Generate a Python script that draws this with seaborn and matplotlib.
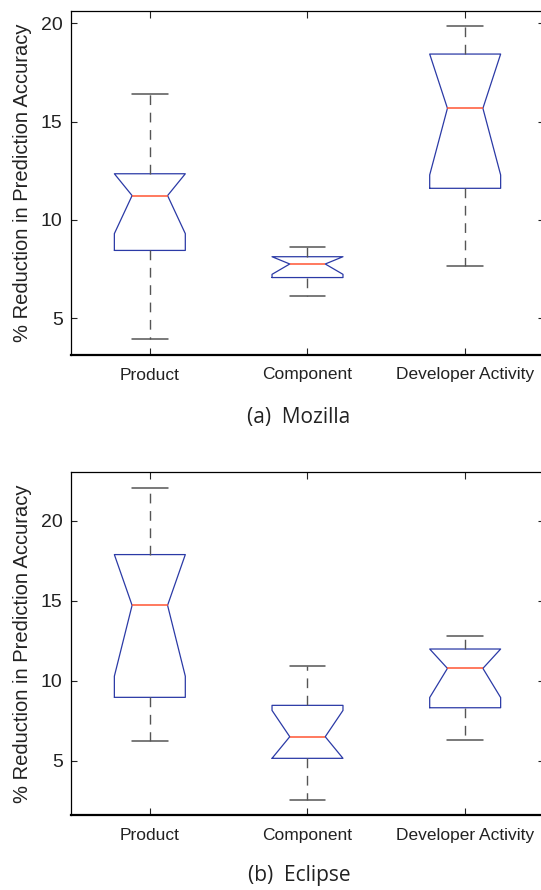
import numpy as np
import pandas as pd
import matplotlib
matplotlib.use("Agg")
import matplotlib.pyplot as plt
import seaborn as sns

# ---------------- data ----------------
categories = ["Product", "Component", "Developer Activity"]

# (a) Mozilla - per-fold reductions (10 folds)
moz_product = [3.95, 6.80, 8.45, 8.45, 11.24, 11.24, 12.35, 12.35, 14.10, 16.42]
moz_component = [6.15, 6.60, 7.07, 7.07, 7.76, 7.76, 8.13, 8.13, 8.40, 8.64]
moz_developer = [7.68, 9.90, 11.61, 11.61, 15.68, 15.68, 18.44, 18.44, 19.20, 19.86]

# (b) Eclipse
ecl_product = [6.21, 7.50, 8.96, 8.96, 14.71, 14.71, 17.88, 17.88, 20.00, 22.06]
ecl_component = [2.56, 4.00, 5.15, 5.15, 6.50, 6.50, 8.46, 8.46, 9.60, 10.92]
ecl_developer = [6.27, 7.40, 8.31, 8.31, 10.77, 10.77, 11.98, 11.98, 12.40, 12.81]

yticks = [5, 10, 15, 20]
moz_ylim = (3.13, 20.63)
ecl_ylim = (1.59, 23.04)
ylabel = "% Reduction in Prediction Accuracy"
captions = ["(a)  Mozilla", "(b)  Eclipse"]

# ---------------- style ----------------
sns.set_theme(style="white")
plt.rcParams["font.family"] = ["Liberation Sans", "DejaVu Sans"]

BOX = "#2b3aa6"
MED = "#ff5533"
WHISK = "#555555"
TXT = "#222222"

W, H = 541, 890
fig = plt.figure(figsize=(W / 100, H / 100), dpi=100)


def make_df(a, b, c):
    return pd.DataFrame({
        "group": [categories[0]] * len(a) + [categories[1]] * len(b) + [categories[2]] * len(c),
        "value": list(a) + list(b) + list(c),
    })


def panel(rect, df, ylim, caption, cap_y):
    ax = fig.add_axes(rect)
    sns.boxplot(
        data=df, x="group", y="value", order=categories, ax=ax,
        fill=False, width=0.45, notch=True, whis=1.5, fliersize=4,
        boxprops=dict(color=BOX, linewidth=0.9),
        medianprops=dict(color=MED, linewidth=1.1),
        whiskerprops=dict(color=WHISK, linewidth=1.0, linestyle=(0, (7, 5.5))),
        capprops=dict(color=WHISK, linewidth=1.1),
    )
    # clip notches to the box (MATLAB-style)
    for ln in ax.lines:
        y = np.asarray(ln.get_ydata(), dtype=float)
        if len(y) == 11:
            lo, hi = y[0], y[5]
            ln.set_ydata(np.clip(y, min(lo, hi), max(lo, hi)))
    ax.set_xlim(-0.5, 2.5)
    ax.set_ylim(*ylim)
    ax.set_yticks(yticks)
    ax.set_xlabel("")
    ax.set_ylabel(ylabel, fontsize=14.5, color=TXT)
    ax.yaxis.set_label_coords(-0.083, 0.5)
    ax.tick_params(axis="y", direction="in", length=4, width=0.8, labelsize=14,
                   colors=TXT, pad=6, left=True, right=True)
    ax.tick_params(axis="x", direction="in", length=5, width=0.8, labelsize=12.5,
                   colors=TXT, pad=9, bottom=True, top=True)
    for s in ["top", "left", "right"]:
        ax.spines[s].set_linewidth(0.9)
        ax.spines[s].set_color("black")
    ax.spines["bottom"].set_linewidth(1.6)
    ax.spines["bottom"].set_color("black")
    fig.text(299 / W, 1 - cap_y / H, caption, ha="center", va="center",
             fontsize=15, color=TXT, family=["Open Sans", "DejaVu Sans"])
    return ax


ax1 = panel([71 / W, 1 - 355 / H, 473 / W, 344 / H],
            make_df(moz_product, moz_component, moz_developer), moz_ylim,
            captions[0], 418)
ax2 = panel([71 / W, 1 - 815.3 / H, 473 / W, 343.3 / H],
            make_df(ecl_product, ecl_component, ecl_developer), ecl_ylim,
            captions[1], 876)

fig.savefig("out.png", dpi=100)
